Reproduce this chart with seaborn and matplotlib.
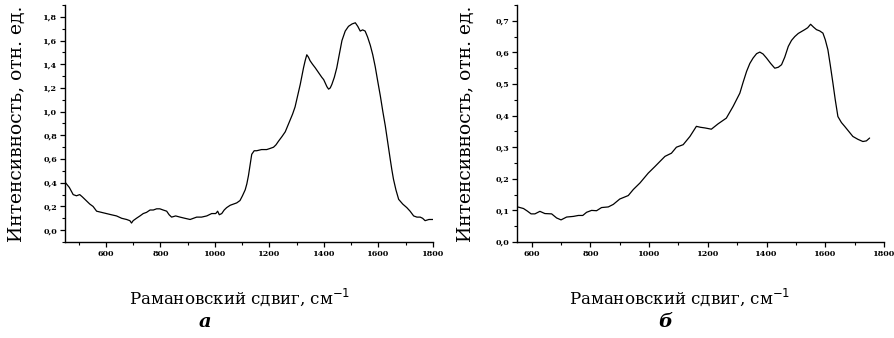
import matplotlib
matplotlib.use("Agg")
import matplotlib.pyplot as plt
from matplotlib.ticker import MultipleLocator, FuncFormatter
import numpy as np
import pandas as pd
import seaborn as sns

# Raman spectrum (a)
shift_a = [452, 466, 480, 492, 504, 514, 523, 532, 541, 553, 566, 584, 602, 620, 639, 658,
           676, 688, 694, 700, 712, 725, 737, 749, 762, 774, 786, 798, 810, 823, 832, 841,
           856, 872, 890, 909, 921, 933, 951, 970, 988, 1003, 1010, 1016, 1025, 1034, 1043,
           1056, 1068, 1080, 1092, 1101, 1111, 1117, 1123, 1129, 1135, 1144, 1153, 1171,
           1190, 1203, 1215, 1224, 1233, 1246, 1258, 1267, 1276, 1285, 1294, 1303, 1313,
           1319, 1325, 1331, 1337, 1343, 1349, 1358, 1368, 1380, 1392, 1399, 1405, 1411,
           1417, 1423, 1429, 1438, 1447, 1456, 1466, 1478, 1490, 1503, 1515, 1524, 1533,
           1542, 1551, 1560, 1570, 1579, 1588, 1597, 1607, 1616, 1625, 1634, 1643, 1649,
           1655, 1664, 1674, 1689, 1704, 1716, 1729, 1741, 1753, 1762, 1771, 1785, 1800]
inten_a = [0.40, 0.36, 0.30, 0.29, 0.30, 0.28, 0.26, 0.24, 0.22, 0.20, 0.16, 0.15, 0.14,
           0.13, 0.12, 0.10, 0.09, 0.08, 0.06, 0.08, 0.10, 0.12, 0.14, 0.15, 0.17, 0.17,
           0.18, 0.18, 0.17, 0.16, 0.13, 0.11, 0.12, 0.11, 0.10, 0.09, 0.10, 0.11, 0.11,
           0.12, 0.14, 0.14, 0.16, 0.13, 0.14, 0.17, 0.19, 0.21, 0.22, 0.23, 0.25, 0.29,
           0.34, 0.39, 0.46, 0.55, 0.64, 0.67, 0.67, 0.68, 0.68, 0.69, 0.70, 0.72, 0.75,
           0.79, 0.83, 0.88, 0.93, 0.98, 1.04, 1.13, 1.23, 1.30, 1.37, 1.43, 1.48, 1.46,
           1.43, 1.40, 1.37, 1.33, 1.29, 1.27, 1.24, 1.21, 1.19, 1.20, 1.23, 1.29, 1.37,
           1.48, 1.60, 1.68, 1.72, 1.74, 1.75, 1.72, 1.68, 1.69, 1.68, 1.63, 1.56, 1.48,
           1.38, 1.26, 1.13, 1.00, 0.88, 0.74, 0.60, 0.51, 0.43, 0.34, 0.26, 0.22, 0.19,
           0.16, 0.12, 0.11, 0.11, 0.10, 0.08, 0.09, 0.09]

# Raman spectrum (б)
shift_b = [552, 572, 585, 598, 611, 628, 645, 668, 685, 700, 719, 742, 759, 774, 787, 804,
           821, 838, 861, 878, 900, 929, 946, 969, 997, 1020, 1038, 1054, 1076, 1093, 1116,
           1139, 1161, 1175, 1190, 1212, 1235, 1263, 1286, 1309, 1320, 1332, 1343, 1354,
           1366, 1377, 1388, 1400, 1414, 1428, 1440, 1451, 1462, 1474, 1485, 1496, 1508,
           1519, 1530, 1540, 1550, 1560, 1570, 1581, 1592, 1600, 1609, 1617, 1626, 1634,
           1643, 1655, 1666, 1680, 1694, 1711, 1728, 1740, 1751]
inten_b = [0.111, 0.106, 0.098, 0.089, 0.089, 0.097, 0.090, 0.089, 0.076, 0.070, 0.079,
           0.081, 0.084, 0.084, 0.094, 0.100, 0.099, 0.109, 0.111, 0.119, 0.136, 0.147,
           0.166, 0.187, 0.218, 0.239, 0.256, 0.271, 0.281, 0.300, 0.308, 0.334, 0.366,
           0.363, 0.361, 0.357, 0.374, 0.392, 0.429, 0.471, 0.505, 0.540, 0.565, 0.582,
           0.596, 0.601, 0.595, 0.582, 0.565, 0.550, 0.553, 0.561, 0.585, 0.619, 0.638,
           0.650, 0.660, 0.666, 0.672, 0.678, 0.689, 0.680, 0.672, 0.668, 0.661, 0.640,
           0.608, 0.560, 0.503, 0.450, 0.397, 0.378, 0.366, 0.350, 0.334, 0.325, 0.318,
           0.320, 0.329]

x_label = "Рамановский сдвиг, см$^{-1}$"
y_label = "Интенсивность, отн. ед."
panel_names = ["а", "б"]

sns.set_style("ticks")
plt.rcParams["font.family"] = ["DejaVu Serif"]
plt.rcParams.update({"text.color": "black", "axes.labelcolor": "black",
                     "xtick.color": "black", "ytick.color": "black",
                     "axes.edgecolor": "black"})

fig = plt.figure(figsize=(8.95, 3.38), dpi=100)
ax_a = fig.add_axes([65 / 895, 96 / 338, 368 / 895, 237 / 338])
ax_b = fig.add_axes([517 / 895, 96 / 338, 367 / 895, 237 / 338])

df_a = pd.DataFrame({"shift": shift_a, "intensity": inten_a})
df_b = pd.DataFrame({"shift": shift_b, "intensity": inten_b})

sns.lineplot(data=df_a, x="shift", y="intensity", ax=ax_a, color="black",
             linewidth=0.9, sort=False, estimator=None)
sns.lineplot(data=df_b, x="shift", y="intensity", ax=ax_b, color="black",
             linewidth=0.9, sort=False, estimator=None)

comma = lambda fmt: FuncFormatter(lambda v, p: (fmt % v).replace(".", ","))

ax_a.set_xlim(450, 1800)
ax_a.set_ylim(-0.1, 1.9)
ax_a.yaxis.set_major_locator(MultipleLocator(0.2))
ax_a.yaxis.set_minor_locator(MultipleLocator(0.1))
ax_a.yaxis.set_major_formatter(comma("%.1f"))

ax_b.set_xlim(550, 1800)
ax_b.set_ylim(0, 0.75)
ax_b.yaxis.set_major_locator(MultipleLocator(0.1))
ax_b.yaxis.set_minor_locator(MultipleLocator(0.05))
ax_b.yaxis.set_major_formatter(comma("%.1f"))

for ax in (ax_a, ax_b):
    ax.xaxis.set_major_locator(MultipleLocator(200))
    ax.xaxis.set_minor_locator(MultipleLocator(100))
    ax.set_xlabel("")
    ax.set_ylabel(y_label, fontsize=13.5, labelpad=4, color="black")
    for side in ("top", "right"):
        ax.spines[side].set_visible(False)
    for side in ("left", "bottom"):
        ax.spines[side].set_linewidth(1.0)
    ax.tick_params(which="major", direction="out", length=3.5, width=0.9,
                   labelsize=5.8, pad=2, colors="black")
    ax.tick_params(which="minor", direction="out", length=2.2, width=0.8,
                   colors="black")
    for lbl in ax.get_xticklabels() + ax.get_yticklabels():
        lbl.set_fontweight("bold")

ax_a.yaxis.set_label_coords(-0.105, 0.5)
ax_b.yaxis.set_label_coords(-0.115, 0.5)

fig.text(240 / 895, 1 - 297 / 338, x_label, ha="center", va="center", fontsize=12)
fig.text(680 / 895, 1 - 297 / 338, x_label, ha="center", va="center", fontsize=12)
fig.text(205 / 895, 1 - 322 / 338, panel_names[0], ha="center", va="center",
         fontsize=14, fontstyle="italic", fontweight="bold")
fig.text(665 / 895, 1 - 322 / 338, panel_names[1], ha="center", va="center",
         fontsize=14, fontstyle="italic", fontweight="bold")

fig.savefig("out.png", dpi=100, facecolor="white")
